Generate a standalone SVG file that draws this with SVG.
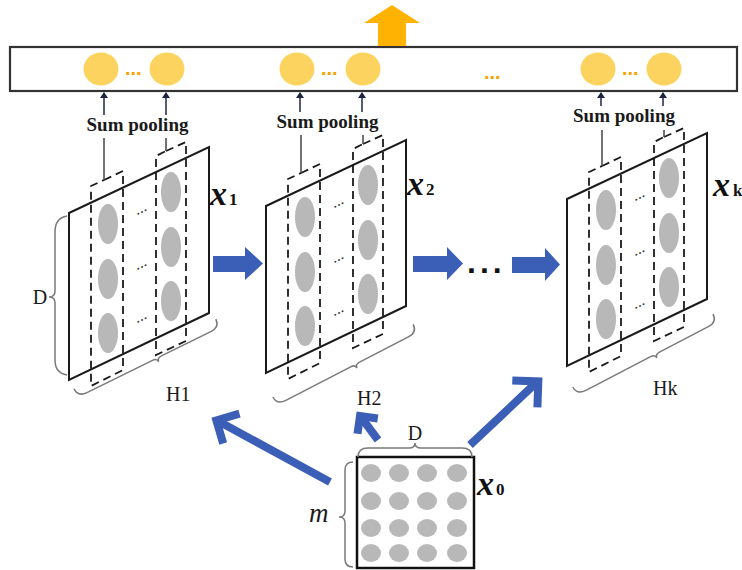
<svg xmlns="http://www.w3.org/2000/svg" xmlns:xlink="http://www.w3.org/1999/xlink" width="742" height="570" viewBox="0 0 742 570">
  <style>
    .bar { fill: #ffffff; stroke: #333333; stroke-width: 2.2; }
    .pool { fill: #FDD35F; }
    .odots { font-family: "Liberation Sans", Arial, sans-serif; font-size: 20px; font-weight: bold; fill: #F5A400; }
    .slab { fill: none; stroke: #1a1a1a; stroke-width: 2; stroke-linejoin: miter; }
    .dash { fill: none; stroke: #1a1a1a; stroke-width: 1.8; stroke-dasharray: 8 5; }
    .cell { fill: #b8b8b8; }
    .sdots { font-family: "Liberation Serif", "Times New Roman", serif; font-size: 16px; fill: #333333; }
    .lead { stroke: #444444; stroke-width: 1.5; fill: none; }
    .up { stroke: #1c2440; stroke-width: 1.5; fill: none; marker-end: url(#tip); }
    .lbl { font-family: "Liberation Serif", "Times New Roman", serif; font-size: 19px; font-weight: bold; fill: #1a1a1a; text-anchor: middle; }
    .dim { font-family: "Liberation Serif", "Times New Roman", serif; font-size: 20px; fill: #1a1a1a; }
    .ital { font-family: "Liberation Serif", "Times New Roman", serif; font-size: 27px; font-style: italic; fill: #1a1a1a; }
    .brace { fill: none; stroke: #7a7a7a; stroke-width: 1.5; }
    .xv { font-family: "Liberation Serif", "Times New Roman", serif; font-size: 34px; font-weight: bold; font-style: italic; fill: #111111; }
    .sub { font-family: "Liberation Serif", "Times New Roman", serif; font-size: 17px; font-weight: bold; fill: #111111; }
    .blk { fill: #3b5eb6; }
    .diag { fill: none; stroke: #3b5eb6; stroke-width: 8; stroke-linejoin: miter; stroke-linecap: butt; }
    .bdots { font-family: "Liberation Sans", Arial, sans-serif; font-size: 32px; font-weight: bold; fill: #111111; letter-spacing: 4px; }
  </style>
  <defs>
    <marker id="tip" viewBox="0 0 6 8" refX="5" refY="4" markerWidth="6" markerHeight="8" markerUnits="userSpaceOnUse" orient="auto">
      <path d="M0,0 L6,4 L0,8 Z" fill="#1c2440"/>
    </marker>
    <!-- one feature map: sheet, two dashed columns, cells and ellipsis marks -->
    <g id="sheet">
      <path class="slab" d="M69,213 L209,147 L209,313 L69,380 Z"/>
      <path class="dash" d="M104,180 L123,171 L123,370 L91,386 L91,186 L104,180"/>
      <path class="dash" d="M166,151 L186,142 L186,341 L156,355 L156,156 L166,151"/>
      <ellipse class="cell" cx="108" cy="224" rx="10" ry="20"/>
      <ellipse class="cell" cx="108" cy="279" rx="10" ry="20"/>
      <ellipse class="cell" cx="108" cy="333" rx="10" ry="20"/>
      <ellipse class="cell" cx="171" cy="192" rx="10" ry="20"/>
      <ellipse class="cell" cx="171" cy="247" rx="10" ry="20"/>
      <ellipse class="cell" cx="171" cy="301" rx="10" ry="20"/>
      <text class="sdots" x="135" y="213" transform="rotate(-25 141 210)">...</text>
      <text class="sdots" x="135" y="268" transform="rotate(-25 141 265)">...</text>
      <text class="sdots" x="135" y="321" transform="rotate(-25 141 318)">...</text>
    </g>
    <!-- curly brace along a sheet's lower edge, length 158 -->
    <path id="hbrace" class="brace" d="M0,-9 Q0,0 10,0 L83,0 Q88,0 88,4 Q88,0 93,0 L148,0 Q158,0 158,-9"/>
  </defs>

  <!-- output layer with pooled values -->
  <g id="output-layer">
    <rect class="bar" x="10" y="47" width="727" height="44"/>
    <ellipse class="pool" cx="101" cy="69" rx="17.5" ry="16.5"/>
    <ellipse class="pool" cx="167" cy="69" rx="17.5" ry="16.5"/>
    <text class="odots" x="125" y="75">...</text>
    <ellipse class="pool" cx="297" cy="69" rx="17.5" ry="16.5"/>
    <ellipse class="pool" cx="363" cy="69" rx="17.5" ry="16.5"/>
    <text class="odots" x="321" y="75">...</text>
    <text class="odots" x="484" y="79">...</text>
    <ellipse class="pool" cx="598" cy="69" rx="17.5" ry="16.5"/>
    <ellipse class="pool" cx="664" cy="69" rx="17.5" ry="16.5"/>
    <text class="odots" x="622" y="75">...</text>
  </g>

  <g id="output-arrow">
    <path d="M378,46 L378,23 L364,23 L392,5 L420,23 L406,23 L406,46 Z" fill="#FFB200"/>
  </g>

  <!-- feature map x1 -->
  <g id="map-x1">
    <use xlink:href="#sheet"/>
    <path class="up" d="M104,115 L104,93"/>
    <path class="up" d="M166,115 L166,93"/>
    <text class="lbl" x="137.5" y="131">Sum pooling</text>
    <path class="lead" d="M104,138 L104,180"/>
    <path class="lead" d="M166,138 L166,151"/>
    <text x="210" y="205"><tspan class="xv">x</tspan><tspan class="sub" dx="2">1</tspan></text>
    <path class="brace" d="M67,216 Q55,218 55,232 L55,291 Q55,297 49,297 Q55,297 55,303 L55,360 Q55,373 67,375"/>
    <text class="dim" x="40" y="304" text-anchor="middle">D</text>
    <use xlink:href="#hbrace" transform="translate(78,397) rotate(-26.2)"/>
    <text class="dim" x="166" y="401">H1</text>
  </g>

  <!-- feature map x2 -->
  <g id="map-x2">
    <use xlink:href="#sheet" transform="translate(197,-7)"/>
    <path class="up" d="M300,112 L300,93"/>
    <path class="up" d="M362,112 L362,93"/>
    <text class="lbl" x="327.5" y="128">Sum pooling</text>
    <path class="lead" d="M301,135 L301,173"/>
    <path class="lead" d="M363,135 L363,144"/>
    <text x="407" y="195"><tspan class="xv">x</tspan><tspan class="sub" dx="2">2</tspan></text>
    <use xlink:href="#hbrace" transform="translate(277,405) rotate(-27.4)"/>
    <text class="dim" x="357" y="405">H2</text>
  </g>

  <!-- feature map xk -->
  <g id="map-xk">
    <use xlink:href="#sheet" transform="translate(498,-14)"/>
    <path class="up" d="M601,106 L601,93"/>
    <path class="up" d="M663,106 L663,93"/>
    <text class="lbl" x="624" y="122">Sum pooling</text>
    <path class="lead" d="M602,130 L602,166"/>
    <path class="lead" d="M664,130 L664,137"/>
    <text x="713" y="196"><tspan class="xv">x</tspan><tspan class="sub" dx="3">k</tspan></text>
    <use xlink:href="#hbrace" transform="translate(577,395) rotate(-27.5)"/>
    <text class="dim" x="653" y="395">Hk</text>
  </g>

  <!-- input matrix x0 -->
  <g id="input-x0">
    <rect x="357" y="457" width="117" height="111" fill="#ffffff" stroke="#111111" stroke-width="2.5"/>
    <g class="cell">
      <ellipse cx="371" cy="473" rx="10" ry="9"/><ellipse cx="399" cy="473" rx="10" ry="9"/><ellipse cx="427" cy="473" rx="10" ry="9"/><ellipse cx="457" cy="473" rx="10" ry="9"/>
      <ellipse cx="371" cy="501" rx="10" ry="9"/><ellipse cx="399" cy="501" rx="10" ry="9"/><ellipse cx="427" cy="501" rx="10" ry="9"/><ellipse cx="457" cy="501" rx="10" ry="9"/>
      <ellipse cx="371" cy="528" rx="10" ry="9"/><ellipse cx="399" cy="528" rx="10" ry="9"/><ellipse cx="427" cy="528" rx="10" ry="9"/><ellipse cx="457" cy="528" rx="10" ry="9"/>
      <ellipse cx="371" cy="553" rx="10" ry="9"/><ellipse cx="399" cy="553" rx="10" ry="9"/><ellipse cx="427" cy="553" rx="10" ry="9"/><ellipse cx="457" cy="553" rx="10" ry="9"/>
    </g>
    <path class="brace" d="M358,457 Q358,448 368,448 L409,448 Q415,448 415,443 Q415,448 421,448 L462,448 Q472,448 472,457"/>
    <text class="dim" x="415" y="440" text-anchor="middle">D</text>
    <path class="brace" d="M353,462 Q345,462 345,470 L345,511 Q345,517 339,517 Q345,517 345,523 L345,559 Q345,567 353,567"/>
    <text class="ital" x="309" y="522">m</text>
    <text x="477" y="495"><tspan class="xv">x</tspan><tspan class="sub" dx="2">0</tspan></text>
  </g>

  <!-- connectors -->
  <g id="connectors">
    <path class="blk" d="M213,256 L245,256 L245,247 L263,263.5 L245,280 L245,272 L213,272 Z"/>
    <path class="blk" d="M413,256 L447,256 L447,247 L463,263.5 L447,280 L447,272 L413,272 Z"/>
    <text class="bdots" x="467" y="273">...</text>
    <path class="blk" d="M512,257 L545,257 L545,248 L560,264.5 L545,281 L545,273 L512,273 Z"/>
    <line class="diag" x1="330" y1="482" x2="218" y2="421"/>
    <polyline class="diag" points="239.5,413.6 216.4,420.4 223.2,443.5"/>
    <line class="diag" x1="378" y1="440" x2="361" y2="417"/>
    <polyline class="diag" points="357.5,433.8 360,416 377.8,418.5"/>
    <line class="diag" x1="470" y1="445" x2="537" y2="382"/>
    <polyline class="diag" points="512.3,380.5 538.3,381.4 537.4,407.4"/>
  </g>
</svg>
